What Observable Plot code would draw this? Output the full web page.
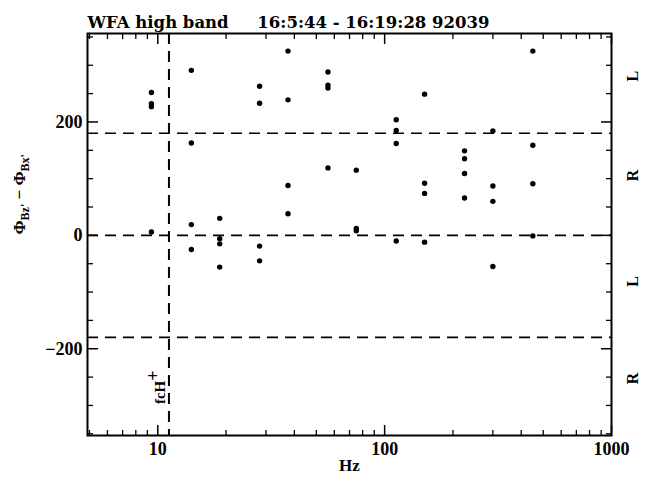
<!DOCTYPE html>
<html><head><meta charset="utf-8">
<script src="https://cdn.jsdelivr.net/npm/d3@7"></script>
<script src="https://cdn.jsdelivr.net/npm/@observablehq/plot@0.6"></script>
<style>body{margin:0;background:#fff}</style>
</head><body><div id="chart"></div>
<script>
const titleText = "WFA high band     16:5:44 - 16:19:28 92039";
const xLabel = "Hz";
// Frequency (Hz) and phase difference (deg) of each point
const pointHz = [
  9.375, 9.375, 9.375, 9.375,
  14.06, 14.06, 14.06, 14.06,
  18.75, 18.75, 18.75, 18.75,
  28.1, 28.1, 28.1, 28.1,
  37.5, 37.5, 37.5, 37.5,
  56.25, 56.25, 56.25, 56.25,
  75, 75, 75,
  112.5, 112.5, 112.5, 112.5,
  150, 150, 150, 150,
  225, 225, 225, 225,
  300, 300, 300, 300,
  450, 450, 450, 450
];
const pointPhase = [
  252, 232, 227, 6,
  291, 163, 19, -25,
  30, -6, -15, -56,
  263, 233, -19, -45,
  325, 239, 88, 38,
  288, 265, 260, 119,
  115, 12, 8,
  204, 185, 162, -10,
  249, 92, 74, -12,
  149, 135, 109, 66,
  184, 87, 60, -55,
  325, 159, 91, -1
];
const fcH = 11.2;
const dashedLevels = [180, 0, -180];
const xMajorTicks = [10, 100, 1000];
const xMinorTicks = [5, 6, 7, 8, 9, 20, 30, 40, 50, 60, 70, 80, 90, 200, 300, 400, 500, 600, 700, 800, 900];
const xTickLabels = ["10", "100", "1000"];
const yMajorTicks = [-200, 0, 200];
const yMinorTicks = [-350, -300, -250, -150, -100, -50, 50, 100, 150, 250, 300, 350];
const yTickLabels = ["\u2212200", "0", "200"];
const sideLabels = ["L", "R", "L", "R"];
const sideLabelPhase = [290, 116, -72, -242];
const fcHLabelPhase = [-268];

const serif = "'Liberation Serif', serif";
const tickMarks = [];
for (const anchor of ["bottom", "top"]) {
  tickMarks.push(Plot.axisX(xMinorTicks, {anchor, tickSize: -5, text: null, label: null, strokeWidth: 1.3}));
  tickMarks.push(Plot.axisX(xMajorTicks, {anchor, tickSize: -10, text: null, label: null, strokeWidth: 1.5}));
}
for (const anchor of ["left", "right"]) {
  tickMarks.push(Plot.axisY(yMinorTicks, {anchor, tickSize: -6, text: null, label: null, strokeWidth: 1.3}));
  tickMarks.push(Plot.axisY(yMajorTicks, {anchor, tickSize: -11, text: null, label: null, strokeWidth: 1.5}));
}

const chart = Plot.plot({
  width: 647,
  height: 479,
  marginLeft: 87,
  marginRight: 36,
  marginTop: 33,
  marginBottom: 44,
  style: {background: "#fff", color: "#000"},
  x: {type: "log", domain: [4.9, 1000]},
  y: {domain: [-353, 356]},
  marks: [
    Plot.ruleY(dashedLevels, {y: d => d, stroke: "#000", strokeWidth: 1.6, strokeDasharray: "11,7"}),
    Plot.ruleX([fcH], {x: d => d, stroke: "#000", strokeWidth: 2, strokeDasharray: "11,7"}),
    Plot.dot(pointHz, {x: pointHz, y: pointPhase, r: 2.7, fill: "#000", stroke: null}),
    ...tickMarks,
    Plot.frame({stroke: "#000", strokeWidth: 2}),
    Plot.text(xMajorTicks, {x: xMajorTicks, text: xTickLabels, frameAnchor: "bottom", dy: 19, fontSize: 18, fontWeight: "bold", fontFamily: serif}),
    Plot.text(yMajorTicks, {y: yMajorTicks, text: yTickLabels, frameAnchor: "left", dx: -5, textAnchor: "end", fontSize: 18, fontWeight: "bold", fontFamily: serif}),
    Plot.text([xLabel], {text: d => d, frameAnchor: "bottom", dy: 35, fontSize: 17, fontWeight: "bold", fontFamily: serif}),
    Plot.text(["YLABEL"], {text: d => d, frameAnchor: "left", dx: -68, rotate: -90, fontSize: 17, fontWeight: "bold", fontFamily: serif}),
    Plot.text([titleText], {text: d => d, frameAnchor: "top-left", dy: -17, textAnchor: "start", fontSize: 16.5, fontWeight: "bold", fontFamily: "'DejaVu Serif', serif"}),
    Plot.text(sideLabels, {text: sideLabels, y: sideLabelPhase, frameAnchor: "right", dx: 21, rotate: -90, fontSize: 16, fontWeight: "bold", fontFamily: serif}),
    Plot.text(fcHLabelPhase, {text: ["FCHLABEL"], x: [fcH], y: fcHLabelPhase, dx: -9, rotate: -90, fontSize: 15, fontWeight: "bold", fontFamily: serif})
  ]
});
document.getElementById("chart").appendChild(chart);

const svg = d3.select(chart);
svg.selectAll("text").filter(function() { return this.textContent === titleText; })
  .style("white-space", "pre");
svg.selectAll("text").filter(function() { return this.textContent === "YLABEL"; })
  .each(function() {
    const t = d3.select(this);
    t.text("");
    t.append("tspan").text("\u03A6");
    t.append("tspan").attr("font-size", 12).attr("dy", 4).text("Bz'");
    t.append("tspan").attr("dy", -4).text(" \u2212 \u03A6");
    t.append("tspan").attr("font-size", 12).attr("dy", 4).text("Bx'");
  });
svg.selectAll("text").filter(function() { return this.textContent === "FCHLABEL"; })
  .each(function() {
    const t = d3.select(this);
    t.text("");
    t.append("tspan").text("fcH");
    t.append("tspan").attr("font-size", 18).attr("dy", -6).text("+");
  });
</script>
</body></html>
